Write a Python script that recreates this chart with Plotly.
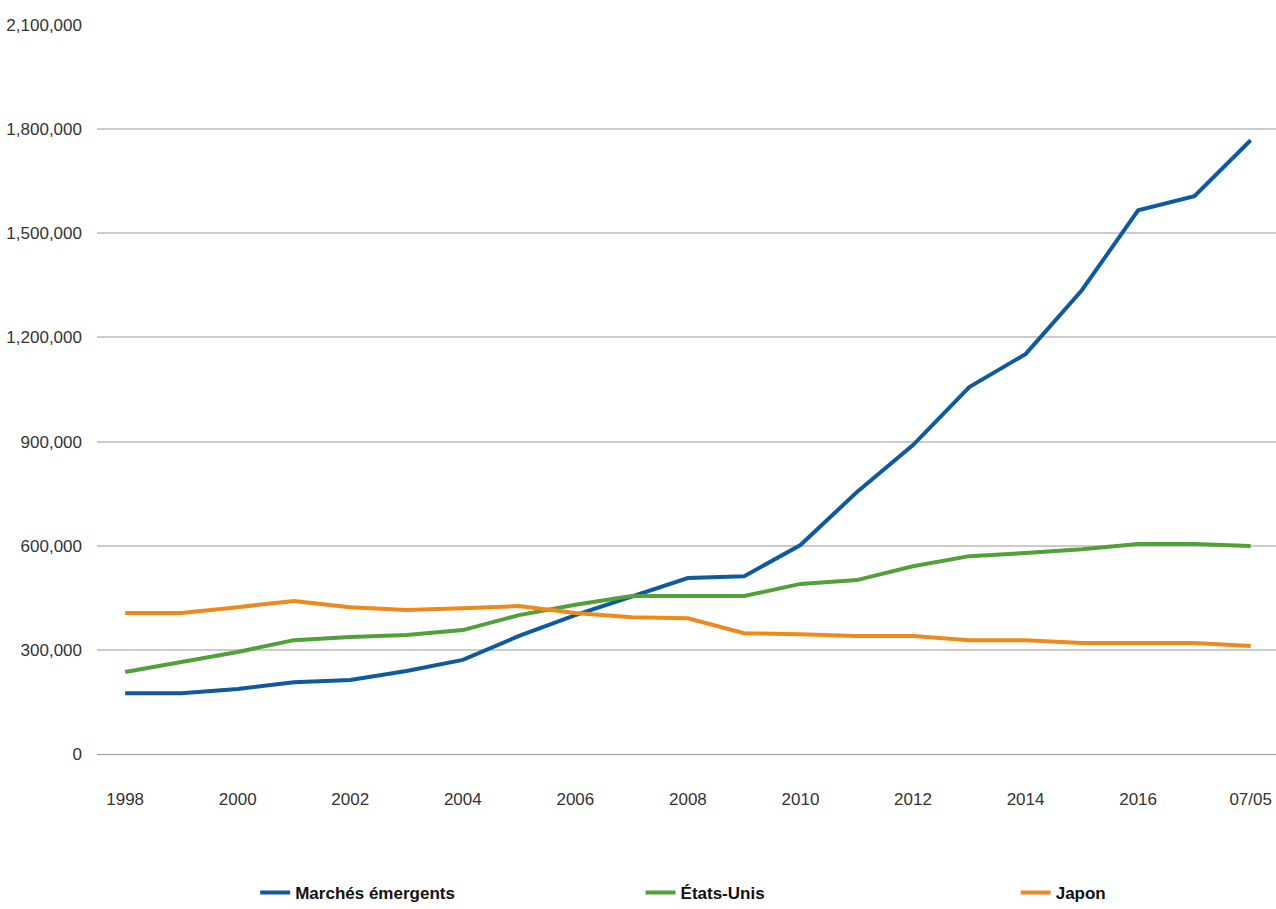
import plotly.graph_objects as go

categories = ["1998", "1999", "2000", "2001", "2002", "2003", "2004", "2005", "2006", "2007",
              "2008", "2009", "2010", "2011", "2012", "2013", "2014", "2015", "2016", "2017", "07/05"]
tick_labels = ["1998", "2000", "2002", "2004", "2006", "2008", "2010", "2012", "2014", "2016", "07/05"]

emerging = [175000, 175000, 187000, 207000, 213000, 239000, 271000, 340000, 400000, 455000,
            507000, 512000, 602000, 754000, 890000, 1057000, 1152000, 1336000, 1566000, 1607000, 1768000]
usa = [236000, 265000, 294000, 328000, 337000, 343000, 357000, 400000, 430000, 455000,
       455000, 455000, 490000, 501000, 541000, 570000, 579000, 590000, 605000, 605000, 599000]
japan = [406000, 406000, 423000, 441000, 423000, 415000, 420000, 426000, 406000, 394000,
         391000, 348000, 345000, 340000, 340000, 328000, 328000, 320000, 320000, 320000, 311000]

series_names = ["Marchés émergents", "États-Unis", "Japon"]
colors = ["#0f5a9c", "#51a03a", "#ee8a1c"]
legend_ids = ["legend", "legend2", "legend3"]
legend_x = [0.200, 0.502, 0.796]

FONT = "Liberation Sans, Arial, sans-serif"

fig = go.Figure()
for name, vals, col, lid in zip(series_names, [emerging, usa, japan], colors, legend_ids):
    fig.add_trace(go.Scatter(x=categories, y=vals, mode="lines", name=name, legend=lid,
                             line=dict(color=col, width=4)))

legend_common = dict(orientation="h", xref="container", yref="container",
                     xanchor="left", y=0.0176, yanchor="middle", itemwidth=30,
                     bgcolor="rgba(0,0,0,0)",
                     font=dict(family=FONT, size=17, color="#111111", weight="bold"))

fig.update_layout(
    width=1276, height=909,
    margin=dict(l=97, r=0, t=25, b=155),
    paper_bgcolor="white", plot_bgcolor="white",
    font=dict(family=FONT, size=17, color="#333333"),
    showlegend=True,
    legend=dict(x=legend_x[0], **legend_common),
    legend2=dict(x=legend_x[1], **legend_common),
    legend3=dict(x=legend_x[2], **legend_common),
)
fig.update_xaxes(type="category", categoryorder="array", categoryarray=categories,
                 range=[-0.5, 20.45], tickmode="array", tickvals=tick_labels, ticktext=tick_labels,
                 showgrid=False, showline=True, linecolor="#999999", linewidth=1,
                 ticks="", ticklabelstandoff=30, automargin=False, tickfont=dict(color="#333333"))
fig.update_yaxes(range=[0, 2100000], tickvals=[0, 300000, 600000, 900000, 1200000, 1500000, 1800000, 2100000],
                 tickformat=",d", showgrid=True, gridcolor="#cccccc", gridwidth=1.5,
                 zeroline=False, ticks="", ticklabelstandoff=14, automargin=False,
                 tickfont=dict(color="#333333"))

fig.write_html("out.html")
